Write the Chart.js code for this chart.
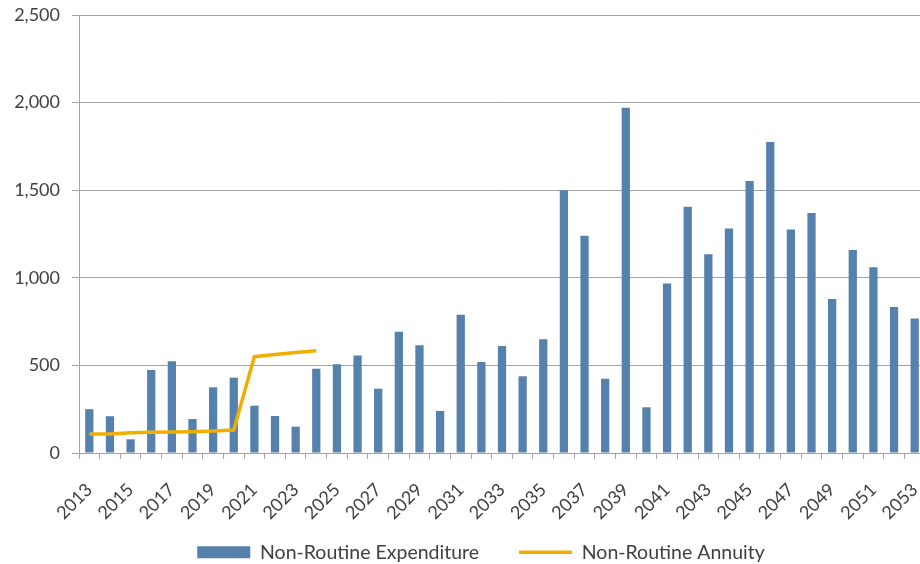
<!DOCTYPE html>
<html>
<head>
<meta charset="utf-8">
<script src="https://cdn.jsdelivr.net/npm/chart.js@4.4.1/dist/chart.umd.min.js"></script>
<style>
  html, body { margin: 0; padding: 0; background: #fff; overflow: hidden; }
  #wrap { width: 930px; height: 572px; position: relative; }
</style>
</head>
<body>
<div id="wrap"><canvas id="myChart"></canvas></div>
<script>
// years on the x axis
const years = ['2013', '2014', '2015', '2016', '2017', '2018', '2019', '2020', '2021', '2022',
  '2023', '2024', '2025', '2026', '2027', '2028', '2029', '2030', '2031', '2032',
  '2033', '2034', '2035', '2036', '2037', '2038', '2039', '2040', '2041', '2042',
  '2043', '2044', '2045', '2046', '2047', '2048', '2049', '2050', '2051', '2052', '2053'];

// bars
const expenditure = [250, 210, 78, 474, 523, 194, 375, 430, 270, 211,
  150, 481, 506, 557, 367, 692, 615, 240, 789, 519,
  611, 438, 649, 1500, 1240, 424, 1971, 261, 968, 1406,
  1134, 1282, 1552, 1775, 1275, 1370, 879, 1159, 1060, 833, 767];

// line (only up to 2024)
const annuity = [108, 108, 116, 118, 120, 122, 125, 131, 550, 562, 574, 584];

const yTicks = [0, 500, 1000, 1500, 2000, 2500];

const gridColor = '#A3A3A3';
const textColor = '#404040';

Chart.defaults.font.family = 'Lato, Carlito, sans-serif';
Chart.defaults.font.size = 18;
Chart.defaults.color = textColor;

// move legend so it sits where the original one is,
// and let the rotated year labels run below the x axis box
const layoutFix = {
  id: 'layoutFix',
  afterLayout(chart) {
    const lg = chart.legend;
    const dx = 481 - (lg.left + lg.right) / 2;
    lg.left += dx;
    lg.right += dx;
    chart.scales.x.bottom = chart.height;
  }
};

const ctx = document.getElementById('myChart');
new Chart(ctx, {
  type: 'bar',
  data: {
    labels: years,
    datasets: [{
      type: 'bar',
      label: 'Non-Routine Expenditure',
      data: expenditure,
      backgroundColor: '#5581AC',
      borderWidth: 0,
      barPercentage: 0.4,
      categoryPercentage: 1.0,
      pointStyle: 'rect',
      order: 1
    }, {
      type: 'line',
      label: 'Non-Routine Annuity',
      data: annuity,
      borderColor: '#F0AF00',
      backgroundColor: '#F0AF00',
      borderWidth: 3.5,
      pointRadius: 0,
      pointStyle: 'line',
      tension: 0,
      fill: false,
      order: 0
    }]
  },
  options: {
    responsive: true,
    maintainAspectRatio: false,
    animation: false,
    layout: { padding: { left: 8, right: 5, top: 15, bottom: 0 } },
    plugins: {
      tooltip: { enabled: false },
      legend: {
        position: 'bottom',
        labels: {
          usePointStyle: true,
          pointStyleWidth: 53,
          boxHeight: 12,
          padding: 40,
          color: textColor,
          font: { size: 19.5 },
          sort: (a, b) => a.datasetIndex - b.datasetIndex
        }
      }
    },
    scales: {
      x: {
        offset: true,
        grid: {
          display: true,
          offset: true,
          drawOnChartArea: false,
          drawTicks: true,
          tickLength: 6,
          color: gridColor
        },
        border: { display: true, color: gridColor },
        ticks: {
          autoSkip: false,
          minRotation: 45,
          maxRotation: 45,
          padding: 20,
          callback: function (value, index) {
            return index % 2 === 0 ? years[index] : '';
          }
        },
        afterFit: function (scale) {
          scale.height = 49.5;
          scale.paddingLeft = 0;
          scale.paddingRight = 0;
        }
      },
      y: {
        min: 0,
        max: 2500,
        afterBuildTicks: function (scale) {
          scale.ticks = yTicks.map(v => ({ value: v }));
        },
        grid: {
          color: gridColor,
          drawTicks: true,
          tickLength: 7
        },
        border: { display: true, color: gridColor },
        ticks: {
          padding: 12,
          callback: function (value) {
            return value.toLocaleString('en-US');
          }
        },
        afterFit: function (scale) {
          scale.width = 71;
          scale.paddingTop = 0;
          scale.paddingBottom = 0;
        }
      }
    }
  },
  plugins: [layoutFix]
});
</script>
</body>
</html>
